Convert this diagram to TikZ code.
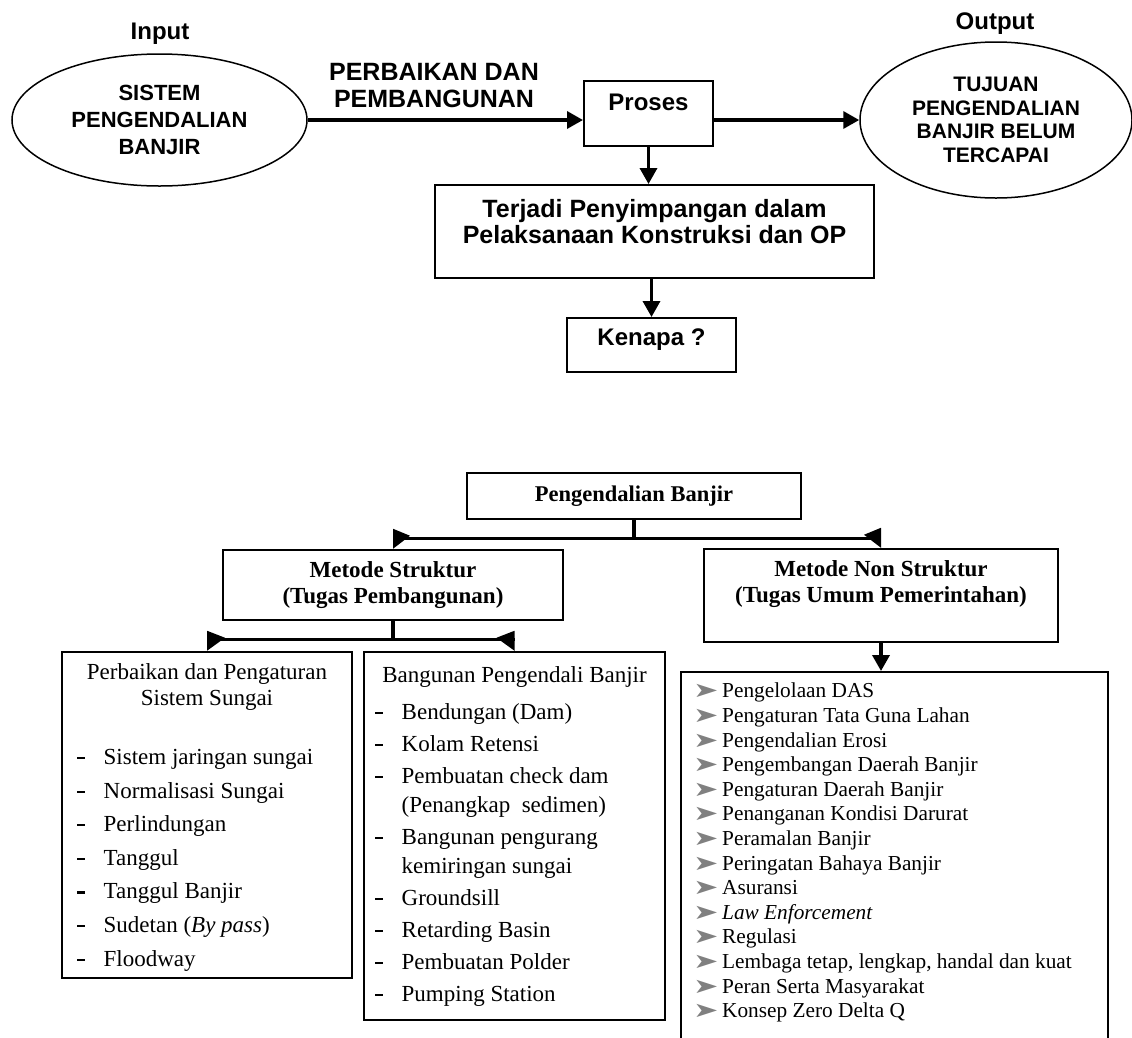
\documentclass[tikz,border=0pt]{standalone}
\usepackage{fontspec}
\setmainfont{Liberation Serif}
\newfontfamily\arialfont{Liberation Sans}
\newfontfamily\dejavufont{DejaVu Sans}
\usetikzlibrary{positioning,arrows.meta,shapes.geometric}

\newcommand{\dashitem}[1]{\makebox[26.5pt][l]{\rule[0.23em]{8pt}{2.2pt}}#1}
\newcommand{\arrowitem}[1]{\makebox[29pt][l]{\scalebox{1.45}[1]{\dejavufont\fontsize{21}{21}\selectfont\color{gray}\char"27A4}}#1}

\tikzset{
  ovalnode/.style={ellipse, draw, line width=1.5pt, align=center, inner sep=0pt,
    font=\arialfont\bfseries\fontsize{22}{27}\selectfont},
  flowbox/.style={draw, line width=2pt, inner sep=0pt},
  flowtext/.style={inner sep=0pt, anchor=north, align=center,
    font=\arialfont\bfseries\fontsize{25}{26}\selectfont},
  flowarrow/.style={line width=3.5pt, -{Triangle[length=16pt,width=17pt]}},
  treebox/.style={draw, line width=2.5pt, inner sep=0pt},
  treetext/.style={inner sep=0pt, align=center, font=\bfseries\fontsize{23}{26}\selectfont},
  treeline/.style={line width=3.5pt},
  listtext/.style={inner sep=0pt, anchor=north west, align=left}
}

\begin{document}
\begin{tikzpicture}[x=1pt,y=-1pt]
  \path[fill=white] (0,0) rectangle (1132,1037);
  \useasboundingbox (0,0) rectangle (1132,1037);

  % input - proses - output
  \node[ovalnode, minimum width=295pt, minimum height=132pt] (sys) at (159.5,120) {SISTEM\\PENGENDALIAN\\BANJIR};
  \node[flowtext, font=\arialfont\bfseries\fontsize{24}{26}\selectfont] (inp) at (160,23) {Input};
  \node[flowtext, font=\arialfont\bfseries\fontsize{25}{27}\selectfont] (perb) at (434,63) {PERBAIKAN DAN\\PEMBANGUNAN};

  \node[flowbox, minimum width=129pt, minimum height=65pt] (proc) at (648.5,113.5) {};
  \node[flowtext, font=\arialfont\bfseries\fontsize{24}{26}\selectfont] (proctxt) at ([yshift=-14pt]proc.north) {Proses};

  \node[ovalnode, minimum width=272pt, minimum height=156pt,
    font=\arialfont\bfseries\fontsize{21}{23.5}\selectfont] (goal) at (996,120) {TUJUAN\\PENGENDALIAN\\BANJIR BELUM\\TERCAPAI};
  \node[flowtext, font=\arialfont\bfseries\fontsize{24}{26}\selectfont] (outp) at (995,13) {Output};

  \node[flowbox, minimum width=439pt, minimum height=93pt] (dev) at (654.5,231.5) {};
  \node[flowtext] (devtxt) at ([yshift=-15pt]dev.north) {Terjadi Penyimpangan dalam\\Pelaksanaan Konstruksi dan OP};

  \node[flowbox, minimum width=169pt, minimum height=54pt] (why) at (651.5,345) {};
  \node[flowtext, font=\arialfont\bfseries\fontsize{24}{26}\selectfont] (whytxt) at ([yshift=-12pt]why.north) {Kenapa ?};

  \draw[flowarrow] (sys.east) -- (sys.east -| proc.west);
  \draw[flowarrow] (proc.east |- goal.west) -- (goal.west);
  \draw[flowarrow] (proc.south) -- (proc.south |- dev.north);
  \draw[flowarrow] (why.north |- dev.south) -- (why.north);

  % pengendalian banjir
  \node[treebox, treetext, minimum width=334pt, minimum height=46pt,
    font=\bfseries\fontsize{22.5}{26}\selectfont] (pb) at (634,496) {Pengendalian Banjir};
  \node[treebox, treetext, minimum width=340pt, minimum height=70pt] (ms) at (393,585) {Metode Struktur\\(Tugas Pembangunan)};
  \node[treebox, minimum width=354pt, minimum height=93pt] (ns) at (881,595.5) {};
  \node[treetext, anchor=north] (nstxt) at ([yshift=-13pt]ns.north) {Metode Non Struktur\\(Tugas Umum Pemerintahan)};

  \draw[treeline] (pb.south) -- ++(0,18) coordinate (pbj);
  \draw[treeline] (pbj -| ms.north) -- (pbj -| ns.north);
  \fill (ms.north) -- ++(0,-20) -- ++(17,7) -- cycle;
  \fill (ns.north) -- ++(0,-20) -- ++(-17,7) -- cycle;

  % metode struktur
  \node[treebox, minimum width=290pt, minimum height=326pt] (pss) at (207,815) {};
  \node[treebox, minimum width=301pt, minimum height=368pt] (bpb) at (514.5,836) {};

  \draw[treeline] (ms.south) -- ++(0,18) coordinate (msj);
  \draw[treeline] (msj -| pss.north) -- (msj -| bpb.north);
  \fill (pss.north) -- ++(0,-20) -- ++(18,7) -- cycle;
  \fill (bpb.north) -- ++(0,-20) -- ++(-18,7) -- cycle;

  \node[inner sep=0pt, anchor=north, align=center, font=\fontsize{23}{26}\selectfont] (psstitle) at ([yshift=-13pt]pss.north) {Perbaikan dan Pengaturan\\Sistem Sungai};
  \node[listtext, font=\fontsize{23}{33.6}\selectfont] (pssitems) at (77,749) {%
    \dashitem{Sistem jaringan sungai}\\
    \dashitem{Normalisasi Sungai}\\
    \dashitem{Perlindungan}\\
    \dashitem{Tanggul}\\
    \dashitem{Tanggul Banjir}\\
    \dashitem{Sudetan (\textit{By pass})}\\
    \dashitem{Floodway}};

  \node[inner sep=0pt, anchor=north, align=center, font=\fontsize{23}{26}\selectfont] (bpbtitle) at ([yshift=-16pt]bpb.north) {Bangunan Pengendali Banjir};
  \node[listtext, font=\fontsize{23}{32}\selectfont] (bpbitems) at (375,703) {%
    \dashitem{Bendungan (Dam)}\\
    \dashitem{Kolam Retensi}\\
    \dashitem{Pembuatan check dam}\\[-3pt]
    \hspace*{26.5pt}(Penangkap\ \ sedimen)\\
    \dashitem{Bangunan pengurang}\\[-3pt]
    \hspace*{26.5pt}kemiringan sungai\\
    \dashitem{Groundsill}\\
    \dashitem{Retarding Basin}\\
    \dashitem{Pembuatan Polder}\\
    \dashitem{Pumping Station}};

  % metode non struktur
  \node[draw, line width=2pt, inner sep=0pt, minimum width=427pt, minimum height=380pt, anchor=north west] (nsl) at (680,671) {};
  \draw[flowarrow] (ns.south) -- (ns.south |- nsl.north);

  \node[listtext, font=\fontsize{21.3}{24.6}\selectfont] (nsitems) at (693,683) {%
    \arrowitem{Pengelolaan DAS}\\
    \arrowitem{Pengaturan Tata Guna Lahan}\\
    \arrowitem{Pengendalian Erosi}\\
    \arrowitem{Pengembangan Daerah Banjir}\\
    \arrowitem{Pengaturan Daerah Banjir}\\
    \arrowitem{Penanganan Kondisi Darurat}\\
    \arrowitem{Peramalan Banjir}\\
    \arrowitem{Peringatan Bahaya Banjir}\\
    \arrowitem{Asuransi}\\
    \arrowitem{\textit{Law Enforcement}}\\
    \arrowitem{Regulasi}\\
    \arrowitem{Lembaga tetap, lengkap, handal dan kuat}\\
    \arrowitem{Peran Serta Masyarakat}\\
    \arrowitem{Konsep Zero Delta Q}};
\end{tikzpicture}
\end{document}
